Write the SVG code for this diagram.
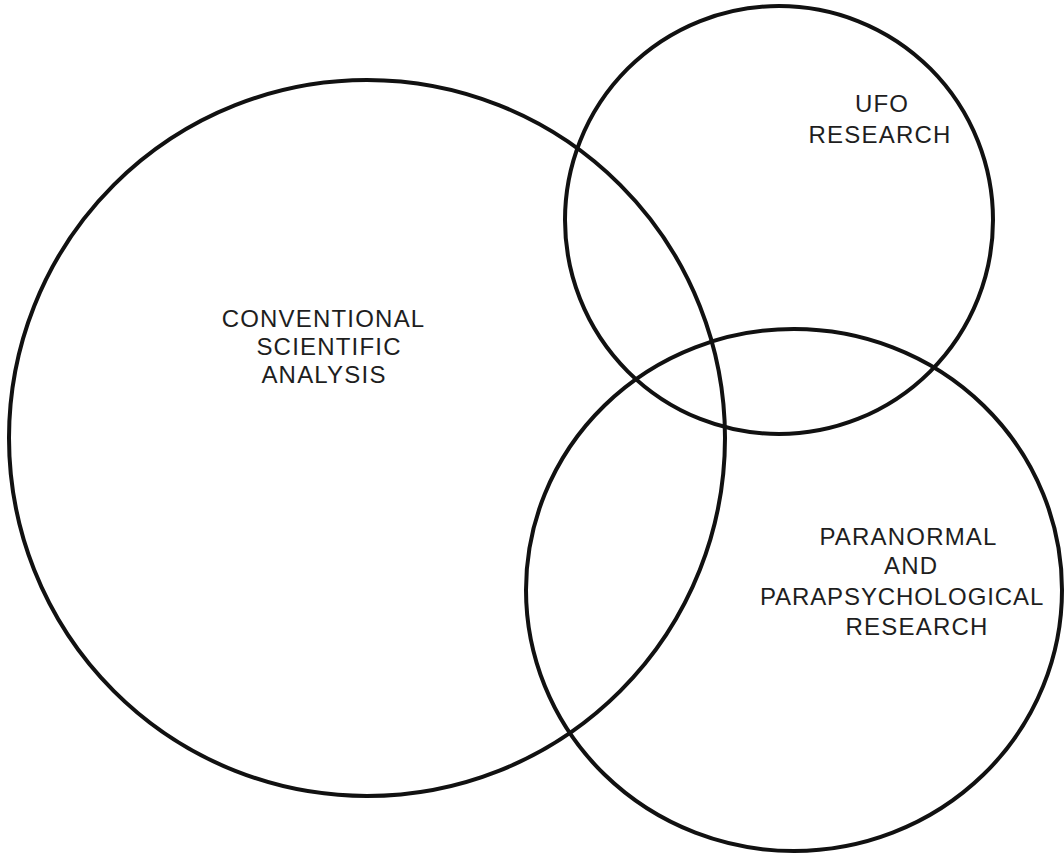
<svg xmlns="http://www.w3.org/2000/svg" width="1064" height="854" viewBox="0 0 1064 854">
  <style>
    .ring { fill: none; stroke: #111; stroke-width: 4; }
    .label { font-family: "Liberation Sans", Arial, sans-serif; font-size: 24px; letter-spacing: 1.2px; fill: #1e1e1e; text-anchor: middle; }
    .tight { letter-spacing: 0.9px; }
  </style>
  <rect width="1064" height="854" fill="#ffffff"/>

  <g id="conventional">
    <circle class="ring" cx="367" cy="438" r="358"/>
    <text class="label">
      <tspan x="327" y="327">CONVENTIONAL</tspan>
      <tspan x="333" y="355">SCIENTIFIC</tspan>
      <tspan x="324" y="383">ANALYSIS</tspan>
    </text>
  </g>

  <g id="ufo">
    <circle class="ring" cx="779" cy="220" r="214"/>
    <text class="label">
      <tspan x="886" y="112">UFO</tspan>
      <tspan x="880" y="143">RESEARCH</tspan>
    </text>
  </g>

  <g id="paranormal">
    <ellipse class="ring" cx="794" cy="590" rx="268" ry="261"/>
    <text class="label">
      <tspan x="912" y="545">PARANORMAL</tspan>
      <tspan x="915" y="574">AND</tspan>
      <tspan class="tight" x="906" y="605">PARAPSYCHOLOGICAL</tspan>
      <tspan x="917" y="635">RESEARCH</tspan>
    </text>
  </g>

  <g id="connectors"></g>
</svg>
